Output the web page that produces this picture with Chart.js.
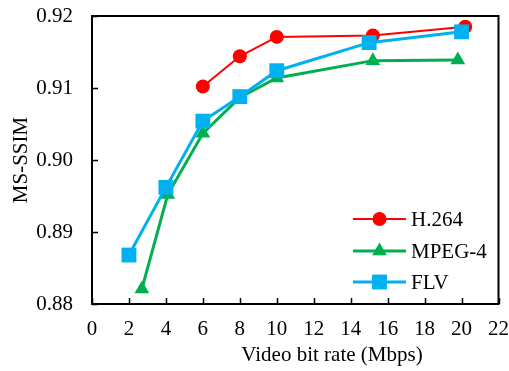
<!DOCTYPE html>
<html>
<head>
<meta charset="utf-8">
<script src="https://cdn.jsdelivr.net/npm/chart.js@4.4.1/dist/chart.umd.min.js"></script>
<style>
  html, body { margin: 0; padding: 0; background: #fff; }
  #wrap { width: 509px; height: 371px; }
</style>
</head>
<body>
<div id="wrap"><canvas id="chart" width="509" height="371"></canvas></div>
<script>
// values
const seriesNames = ['H.264', 'MPEG-4', 'FLV'];
const h264X = [6, 8, 10, 15.2, 20.2];
const h264Y = [0.9102, 0.9144, 0.9171, 0.9173, 0.9185];
const mpegX = [2.7, 4.1, 6, 8, 10, 15.2, 19.8];
const mpegY = [0.8821, 0.8952, 0.9037, 0.9087, 0.9114, 0.9138, 0.9139];
const flvX = [2, 4, 6, 8, 10, 15, 20];
const flvY = [0.8868, 0.8962, 0.9054, 0.9088, 0.9124, 0.9163, 0.9178];
const xTicks = [0, 2, 4, 6, 8, 10, 12, 14, 16, 18, 20, 22];
const yTicks = [0.88, 0.89, 0.90, 0.91, 0.92];
const xTitle = 'Video bit rate (Mbps)';

const FONT = 'Liberation Serif, Times New Roman, serif';
const FSIZE = 21;

function pts(xs, ys) {
  return xs.map((x, i) => ({ x: x, y: ys[i] }));
}

// inward ticks, box frame, x title (sits right of centre in the original) and legend
const framePlugin = {
  id: 'frame',
  afterDraw(chart) {
    const ctx = chart.ctx;
    const a = chart.chartArea;
    const xs = chart.scales.x, ys = chart.scales.y;
    ctx.save();
    ctx.strokeStyle = '#000';
    ctx.lineWidth = 2;
    ctx.strokeRect(a.left, a.top, a.right - a.left, a.bottom - a.top);
    ctx.beginPath();
    xTicks.forEach(v => {
      const px = Math.round(xs.getPixelForValue(v)) + 0.5;
      ctx.moveTo(px, a.bottom);
      ctx.lineTo(px, a.bottom - 6);
    });
    yTicks.forEach(v => {
      const py = Math.round(ys.getPixelForValue(v)) + 0.5;
      ctx.moveTo(a.left, py);
      ctx.lineTo(a.left + 6, py);
    });
    ctx.lineWidth = 1.5;
    ctx.stroke();

    ctx.fillStyle = '#000';
    ctx.font = FSIZE + 'px ' + FONT;
    ctx.textAlign = 'center';
    ctx.textBaseline = 'middle';
    ctx.fillText(xTitle, 332, 355);

    // legend
    const lx0 = 353, lx1 = 406, tx = 411;
    const rows = [219, 251, 282];
    chart.data.datasets.forEach((ds, i) => {
      const y = rows[i];
      ctx.beginPath();
      ctx.strokeStyle = ds.borderColor;
      ctx.lineWidth = ds.borderWidth;
      ctx.moveTo(lx0, y);
      ctx.lineTo(lx1, y);
      ctx.stroke();
      ctx.fillStyle = ds.pointBackgroundColor;
      ctx.strokeStyle = ds.pointBackgroundColor;
      Chart.helpers.drawPoint(ctx, {
        pointStyle: ds.pointStyle,
        radius: ds.pointRadius,
        borderWidth: 0,
        rotation: 0
      }, (lx0 + lx1) / 2, y);
      ctx.fillStyle = '#000';
      ctx.textAlign = 'left';
      ctx.fillText(ds.label, tx, y + 1);
    });
    ctx.restore();
  }
};

const config = {
  type: 'line',
  data: {
    datasets: [
      {
        label: seriesNames[0],
        data: pts(h264X, h264Y),
        borderColor: '#FF0000',
        backgroundColor: '#FF0000',
        pointBackgroundColor: '#FF0000',
        pointBorderWidth: 0,
        borderWidth: 2,
        pointStyle: 'circle',
        pointRadius: 7,
        order: 2
      },
      {
        label: seriesNames[1],
        data: pts(mpegX, mpegY),
        borderColor: '#00B050',
        backgroundColor: '#00B050',
        pointBackgroundColor: '#00B050',
        pointBorderWidth: 0,
        borderWidth: 3,
        pointStyle: 'triangle',
        pointRadius: 8.5,
        order: 1
      },
      {
        label: seriesNames[2],
        data: pts(flvX, flvY),
        borderColor: '#00B0F0',
        backgroundColor: '#00B0F0',
        pointBackgroundColor: '#00B0F0',
        pointBorderWidth: 0,
        borderWidth: 3,
        pointStyle: 'rect',
        pointRadius: 10.5,
        order: 0
      }
    ]
  },
  options: {
    responsive: false,
    animation: false,
    clip: false,
    layout: { padding: { top: 16, right: 10, left: 0, bottom: 0 } },
    plugins: {
      legend: { display: false },
      tooltip: { enabled: false }
    },
    scales: {
      x: {
        type: 'linear',
        min: 0,
        max: 22,
        afterBuildTicks: s => { s.ticks = xTicks.map(v => ({ value: v })); },
        grid: { display: false, drawTicks: false },
        border: { display: false },
        ticks: {
          color: '#000',
          font: { family: FONT, size: FSIZE },
          padding: 13,
          maxRotation: 0
        },
        title: { display: false },
        afterFit: s => {
          s.height = 67;
          s.paddingLeft = 0;
          s.paddingRight = 0;
        }
      },
      y: {
        type: 'linear',
        min: 0.88,
        max: 0.92,
        afterBuildTicks: s => { s.ticks = yTicks.map(v => ({ value: v })); },
        grid: { display: false, drawTicks: false },
        border: { display: false },
        ticks: {
          color: '#000',
          font: { family: FONT, size: FSIZE },
          padding: 19,
          callback: v => v.toFixed(2)
        },
        title: {
          display: true,
          text: 'MS-SSIM',
          color: '#000',
          font: { family: FONT, size: FSIZE },
          padding: { top: 9, bottom: 0 }
        },
        afterFit: s => {
          s.width = 92;
          s.paddingTop = 0;
          s.paddingBottom = 0;
        }
      }
    }
  },
  plugins: [framePlugin]
};

new Chart(document.getElementById('chart'), config);
</script>
</body>
</html>
